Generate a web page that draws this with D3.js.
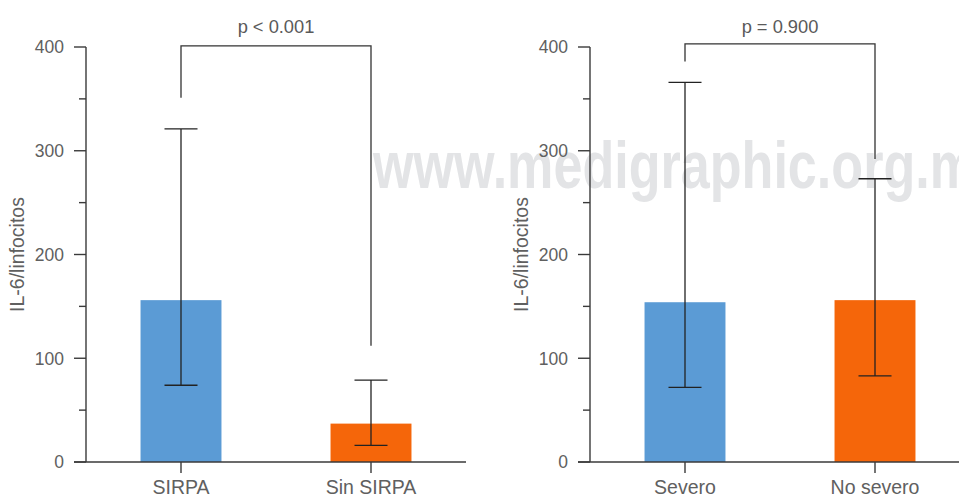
<!DOCTYPE html>
<html>
<head>
<meta charset="utf-8">
<script src="https://cdn.jsdelivr.net/npm/d3@7"></script>
<style>
  body { margin: 0; background: #fff; }
  text { font-family: "Liberation Sans", Arial, sans-serif; }
</style>
</head>
<body>
<script>
// values (IL-6/linfocitos)
const leftCategories = ['SIRPA', 'Sin SIRPA'];
const leftMeans = [156, 37];
const leftLow = [74, 16];
const leftHigh = [321, 79];
const leftBracket = [401, 351, 112]; // top, left leg end, right leg end
const leftP = 'p < 0.001';

const rightCategories = ['Severo', 'No severo'];
const rightMeans = [154, 156];
const rightLow = [72, 83];
const rightHigh = [366, 273];
const rightBracket = [403, 386, 292];
const rightP = 'p = 0.900';

const yTicks = [0, 100, 200, 300, 400];
const yMinorTicks = [50, 150, 250, 350];
const yLabel = 'IL-6/linfocitos';
const colors = ['#5b9bd5', '#f5660a'];

let width = 959, height = 498;
let svg = d3.select('body').append('svg').attr('width', width).attr('height', height);
svg.append('rect').attr('width', width).attr('height', height).attr('fill', '#fff');

// watermark behind everything
svg.append('text')
  .attr('x', 373).attr('y', 188)
  .attr('textLength', 632).attr('lengthAdjust', 'spacingAndGlyphs')
  .style('font-family', '"Liberation Sans Narrow", "Liberation Sans", Arial, sans-serif')
  .style('font-weight', 'bold').style('font-size', '66px')
  .attr('fill', '#e3e4e6')
  .text('www.medigraphic.org.mx');

let y = d3.scaleLinear().domain([0, 400]).range([462, 47]);

function drawPanel(axisX, cats, means, low, high, bracket, pText) {
  let g = svg.append('g');
  let x = d3.scaleBand().domain(cats).range([axisX, axisX + 380])
    .paddingInner(0.574).paddingOuter(0.287);
  let cx = d => x(d) + x.bandwidth() / 2;
  let axisColor = '#3a3a3a';
  let textColor = '#606060';

  // bars
  g.selectAll('rect.bar').data(cats).enter().append('rect')
    .attr('x', d => x(d)).attr('width', x.bandwidth())
    .attr('y', (d, i) => y(means[i]))
    .attr('height', (d, i) => y(0) - y(means[i]))
    .attr('fill', (d, i) => colors[i]);

  // y axis
  g.append('line').attr('x1', axisX).attr('x2', axisX).attr('y1', y(400)).attr('y2', y(0))
    .attr('stroke', axisColor).attr('stroke-width', 1.4);
  g.selectAll('line.major').data(yTicks).enter().append('line')
    .attr('x1', axisX - 12).attr('x2', axisX).attr('y1', d => y(d)).attr('y2', d => y(d))
    .attr('stroke', axisColor).attr('stroke-width', 1.4);
  g.selectAll('line.minor').data(yMinorTicks).enter().append('line')
    .attr('x1', axisX - 7).attr('x2', axisX).attr('y1', d => y(d)).attr('y2', d => y(d))
    .attr('stroke', axisColor).attr('stroke-width', 1.4);
  g.selectAll('text.tick').data(yTicks).enter().append('text')
    .attr('x', axisX - 22).attr('y', d => y(d)).attr('dy', '0.36em')
    .attr('text-anchor', 'end').attr('fill', textColor).style('font-size', '17.5px')
    .text(d => d);
  g.append('text')
    .attr('transform', `translate(${axisX - 62},${(y(0) + y(400)) / 2}) rotate(-90)`)
    .attr('text-anchor', 'middle').attr('fill', textColor).style('font-size', '19.5px')
    .text(yLabel);

  // x axis
  g.append('line').attr('x1', axisX - 12).attr('x2', axisX + 380).attr('y1', y(0)).attr('y2', y(0))
    .attr('stroke', axisColor).attr('stroke-width', 1.4);
  g.selectAll('line.xtick').data(cats).enter().append('line')
    .attr('x1', cx).attr('x2', cx).attr('y1', y(0)).attr('y2', y(0) + 11)
    .attr('stroke', axisColor).attr('stroke-width', 1.4);
  g.selectAll('text.cat').data(cats).enter().append('text')
    .attr('x', cx).attr('y', 494)
    .attr('text-anchor', 'middle').attr('fill', textColor).style('font-size', '19.5px')
    .text(d => d);

  // error bars
  let eb = g.selectAll('g.err').data(cats).enter().append('g');
  eb.append('line').attr('x1', cx).attr('x2', cx)
    .attr('y1', (d, i) => y(low[i])).attr('y2', (d, i) => y(high[i]));
  eb.append('line').attr('x1', d => cx(d) - 16.5).attr('x2', d => cx(d) + 16.5)
    .attr('y1', (d, i) => y(high[i])).attr('y2', (d, i) => y(high[i]));
  eb.append('line').attr('x1', d => cx(d) - 16.5).attr('x2', d => cx(d) + 16.5)
    .attr('y1', (d, i) => y(low[i])).attr('y2', (d, i) => y(low[i]));
  eb.selectAll('line').attr('stroke', '#222').attr('stroke-width', 1.3);

  // significance bracket
  let x0 = cx(cats[0]), x1 = cx(cats[1]);
  g.append('path')
    .attr('d', `M${x0},${y(bracket[1])}V${y(bracket[0])}H${x1}V${y(bracket[2])}`)
    .attr('fill', 'none').attr('stroke', '#333').attr('stroke-width', 1.3);
  g.append('text')
    .attr('x', (x0 + x1) / 2).attr('y', 33)
    .attr('text-anchor', 'middle').attr('fill', '#5a5a5a').style('font-size', '18.3px')
    .text(pText);
}

drawPanel(86, leftCategories, leftMeans, leftLow, leftHigh, leftBracket, leftP);
drawPanel(590, rightCategories, rightMeans, rightLow, rightHigh, rightBracket, rightP);
</script>
</body>
</html>
